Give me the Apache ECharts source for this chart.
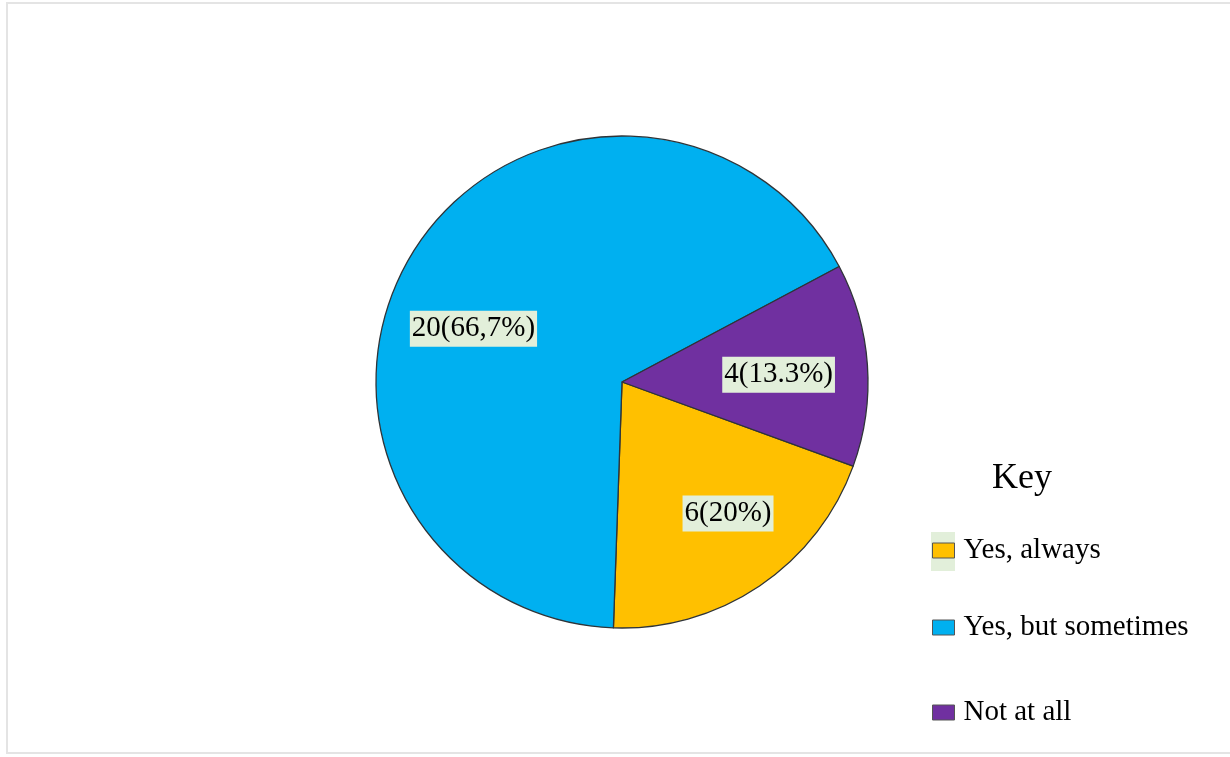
<!DOCTYPE html>
<html>
<head>
<meta charset="utf-8">
<script src="https://cdn.jsdelivr.net/npm/echarts@6/dist/echarts.min.js"></script>
<style>
  html, body { margin: 0; padding: 0; background: #ffffff; }
  #chart { width: 1230px; height: 757px; }
</style>
</head>
<body>
<div id="chart"></div>
<script>
// Survey answers and their counts
const categories = ['Yes, always', 'Yes, but sometimes', 'Not at all'];
const counts = [6, 20, 4];
const labelTexts = ['6(20%)', '20(66,7%)', '4(13.3%)'];
const colors = ['#ffc000', '#00b0f0', '#7030a0'];

const serif = '"Liberation Serif", "Times New Roman", serif';
const pieData = categories.map((name, i) => ({
  name: name,
  value: counts[i],
  itemStyle: { color: colors[i] }
}));
const labelData = categories.map((name, i) => ({
  name: name,
  value: counts[i],
  label: { formatter: labelTexts[i] }
}));

// small hand nudges for the value boxes (dx, dy in px)
const labelNudges = [[16, -2], [-12, 32], [-4, 4]];

const legendTops = [531, 608, 693];
const legends = categories.map((name, i) => ({
  data: [name],
  orient: 'vertical',
  left: 927,
  top: legendTops[i],
  itemWidth: 22,
  itemHeight: 15,
  itemGap: 0,
  icon: 'rect',
  itemStyle: { borderColor: '#555555', borderWidth: 1 },
  textStyle: { fontFamily: serif, fontSize: 29, color: '#000000', padding: [0, 0, 0, 4] },
  selectedMode: false
}));

const chart = echarts.init(document.getElementById('chart'), null, { renderer: 'canvas' });
chart.setOption({
  backgroundColor: '#ffffff',
  animation: false,
  title: {
    text: 'Key',
    left: 987,
    top: 456,
    textStyle: { fontFamily: serif, fontSize: 36, fontWeight: 'normal', color: '#000000' }
  },
  legend: legends,
  graphic: [
    {
      type: 'rect',
      shape: { x: 7, y: 3, width: 1240, height: 750 },
      style: { fill: 'none', stroke: '#e4e4e4', lineWidth: 2 },
      silent: true,
      z: -1
    },
    {
      type: 'rect',
      shape: { x: 931, y: 532, width: 24, height: 39 },
      style: { fill: '#e2efda' },
      silent: true,
      z: -1
    }
  ],
  series: [
    {
      type: 'pie',
      center: [622, 382],
      radius: 246,
      startAngle: 340,
      clockwise: true,
      data: pieData,
      label: { show: false },
      labelLine: { show: false },
      itemStyle: { borderColor: '#2f3438', borderWidth: 1.3 },
      emphasis: { disabled: true }
    },
    {
      // transparent twin that only carries the value labels further out
      type: 'pie',
      center: [622, 382],
      radius: 316,
      startAngle: 340,
      clockwise: true,
      silent: true,
      data: labelData,
      itemStyle: { color: 'rgba(0,0,0,0)', borderWidth: 0 },
      label: {
        show: true,
        position: 'inside',
        fontFamily: serif,
        fontSize: 29,
        color: '#000000',
        backgroundColor: '#e2efda',
        padding: [4, 2, 3, 2]
      },
      labelLine: { show: false },
      labelLayout: function (params) {
        const n = labelNudges[params.dataIndex];
        return { dx: n[0], dy: n[1] };
      },
      emphasis: { disabled: true }
    }
  ]
});
</script>
</body>
</html>
